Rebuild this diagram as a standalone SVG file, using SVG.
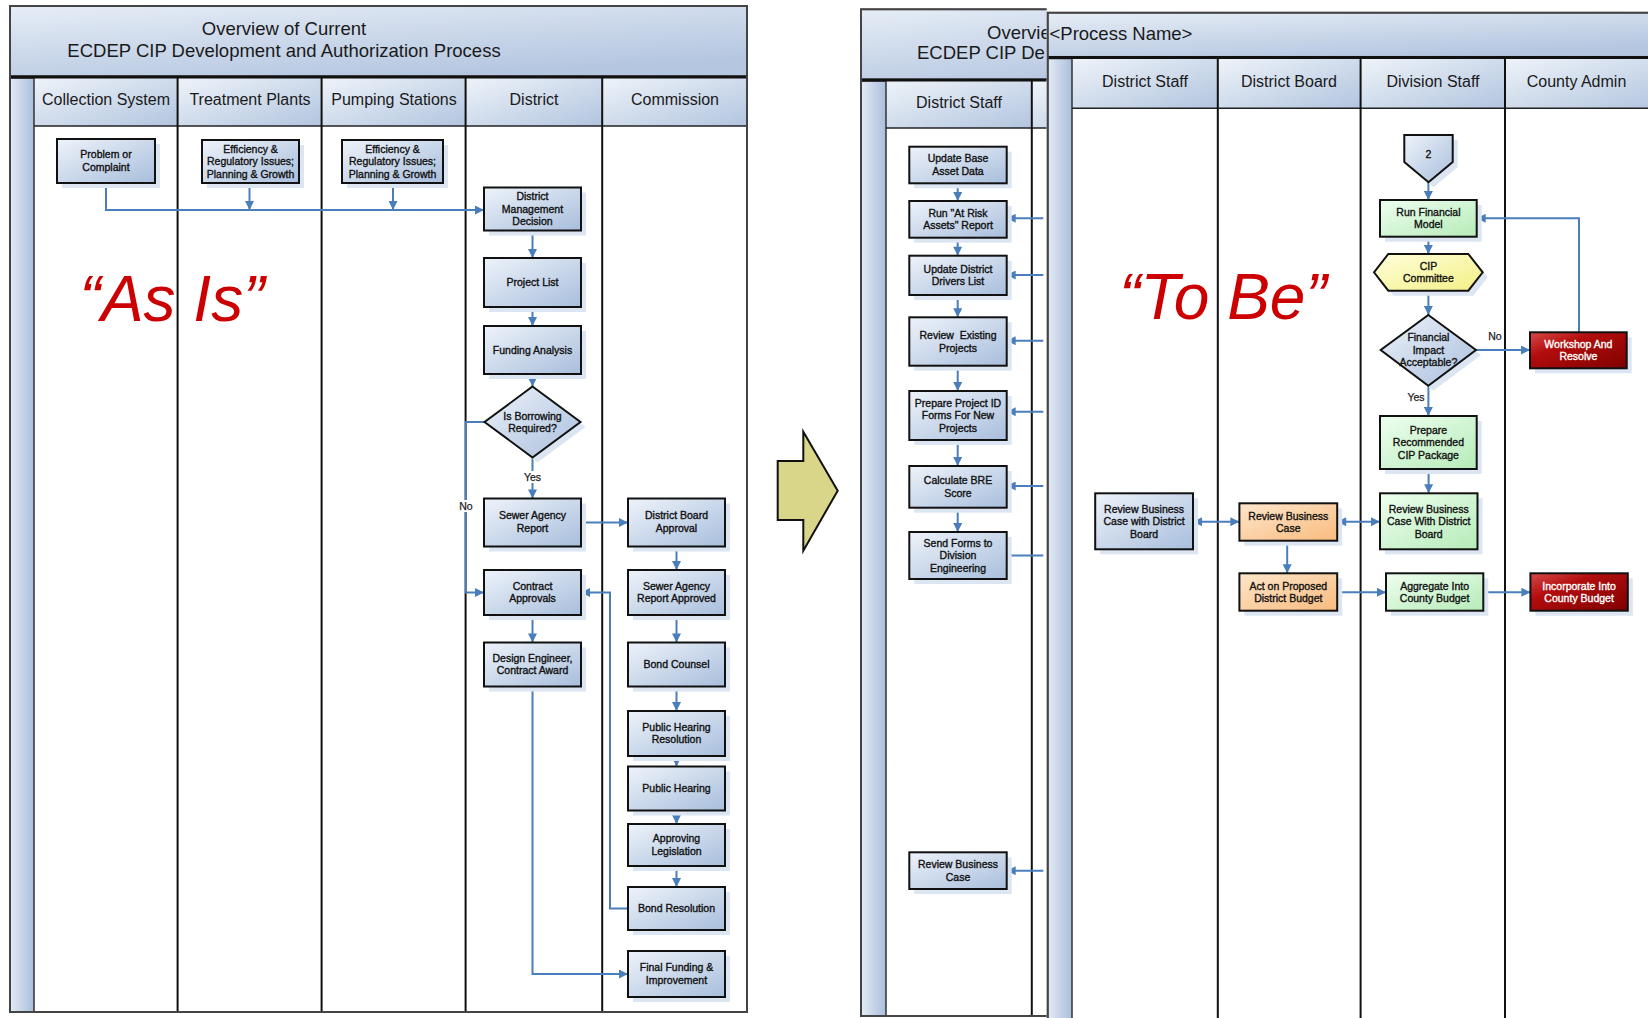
<svg xmlns="http://www.w3.org/2000/svg" width="1648" height="1018" viewBox="0 0 1648 1018">
  <defs>
    <linearGradient id="band" x1="0" y1="0" x2="0.6" y2="1">
      <stop offset="0" stop-color="#e6edf6"/>
      <stop offset="1" stop-color="#b4c6e0"/>
    </linearGradient>
    <linearGradient id="head" x1="0" y1="0" x2="1" y2="1">
      <stop offset="0" stop-color="#eef3f9"/>
      <stop offset="1" stop-color="#b2c5df"/>
    </linearGradient>
    <linearGradient id="strip" x1="0" y1="0" x2="1" y2="0">
      <stop offset="0" stop-color="#e4ebf5"/>
      <stop offset="1" stop-color="#a9bedc"/>
    </linearGradient>
    <linearGradient id="blue" x1="0" y1="0" x2="1" y2="1">
      <stop offset="0" stop-color="#eef3fa"/>
      <stop offset="1" stop-color="#a8bedc"/>
    </linearGradient>
    <linearGradient id="green" x1="0" y1="0" x2="1" y2="1">
      <stop offset="0" stop-color="#eefff0"/>
      <stop offset="1" stop-color="#b6ebb8"/>
    </linearGradient>
    <linearGradient id="orange" x1="0" y1="0" x2="1" y2="1">
      <stop offset="0" stop-color="#fde6cc"/>
      <stop offset="1" stop-color="#f9bb7d"/>
    </linearGradient>
    <linearGradient id="yellow" x1="0" y1="0" x2="1" y2="1">
      <stop offset="0" stop-color="#ffffdc"/>
      <stop offset="1" stop-color="#f3ef84"/>
    </linearGradient>
    <linearGradient id="red" x1="0" y1="0" x2="1" y2="1">
      <stop offset="0" stop-color="#d84a4a"/>
      <stop offset="0.35" stop-color="#b30d0d"/>
      <stop offset="1" stop-color="#7e0000"/>
    </linearGradient>
    <clipPath id="behind">
      <rect x="850" y="0" width="196.5" height="1018"/>
    </clipPath>
    <marker id="arr" viewBox="0 0 10 10" refX="10" refY="5" markerWidth="10" markerHeight="9" markerUnits="userSpaceOnUse" orient="auto-start-reverse">
      <path d="M0,0 L10,5 L0,10 z" fill="#4a7ebb"/>
    </marker>
  </defs>
  <style>
    .frame { fill: none; stroke: #444; stroke-width: 2; }
    .bandr { fill: url(#band); stroke: #444; stroke-width: 1.5; }
    .headr { fill: url(#head); }
    .stripr { fill: url(#strip); stroke: #333; stroke-width: 1.5; }
    .body { fill: #ffffff; }
    .div { stroke: #111; stroke-width: 2; }
    .sep { stroke: #111; stroke-width: 3; }
    .hl { stroke: #222; stroke-width: 1.5; }
    .sh { fill: #dce5f2; }
    .bx { stroke: #111; stroke-width: 2; }
    .b { fill: url(#blue); }
    .g { fill: url(#green); }
    .o { fill: url(#orange); }
    .y { fill: url(#yellow); }
    .r { fill: url(#red); }
    .t { font-family: "Liberation Sans", Arial, sans-serif; font-size: 10.5px; text-anchor: middle; fill: #111; stroke: #111; stroke-width: 0.35; }
    .tw { fill: #ffffff; stroke: #ffffff; }
    .lbl { font-family: "Liberation Sans", Arial, sans-serif; font-size: 10.5px; text-anchor: middle; fill: #222; stroke: #222; stroke-width: 0.25; }
    .hd { font-family: "Liberation Sans", Arial, sans-serif; font-size: 16px; text-anchor: middle; fill: #1a1a1a; }
    .ttl { font-family: "Liberation Sans", Arial, sans-serif; font-size: 18.5px; fill: #1a1a1a; }
    .big { font-family: "Liberation Sans", Arial, sans-serif; font-size: 64px; font-style: italic; fill: #cc0000; text-anchor: middle; }
    .c { fill: none; stroke: #4a7ebb; stroke-width: 2; }
    .ca { fill: none; stroke: #4a7ebb; stroke-width: 2; marker-end: url(#arr); }
    .cb { fill: none; stroke: #4a7ebb; stroke-width: 2; marker-start: url(#arr); marker-end: url(#arr); }
  </style>

  <rect x="0" y="0" width="1648" height="1018" fill="#ffffff"/>

  <!-- Left swimlane pool: current process -->
  <g id="pool-current">
    <rect class="bandr" x="10" y="6" width="737" height="70"/>
    <text class="ttl" x="284" y="35" text-anchor="middle">Overview of Current</text>
    <text class="ttl" x="284" y="57" text-anchor="middle">ECDEP CIP Development and Authorization Process</text>
    <rect class="body" x="34" y="126" width="713" height="886"/>
    <rect class="headr" x="34" y="78" width="144" height="48"/>
    <rect class="headr" x="178" y="78" width="144" height="48"/>
    <rect class="headr" x="322" y="78" width="144" height="48"/>
    <rect class="headr" x="466" y="78" width="136" height="48"/>
    <rect class="headr" x="602" y="78" width="145" height="48"/>
    <rect class="stripr" x="10" y="78" width="24" height="934"/>
    <line class="sep" x1="10" y1="77" x2="747" y2="77"/>
    <line class="hl" x1="34" y1="126" x2="747" y2="126"/>
    <line class="div" x1="177.6" y1="78" x2="177.6" y2="1012"/>
    <line class="div" x1="321.6" y1="78" x2="321.6" y2="1012"/>
    <line class="div" x1="465.6" y1="78" x2="465.6" y2="1012"/>
    <line class="div" x1="602.2" y1="78" x2="602.2" y2="1012"/>
    <rect class="frame" x="10" y="6" width="737" height="1006"/>
    <text class="hd" x="106" y="104.5">Collection System</text>
    <text class="hd" x="250" y="104.5">Treatment Plants</text>
    <text class="hd" x="394" y="104.5">Pumping Stations</text>
    <text class="hd" x="534" y="104.5">District</text>
    <text class="hd" x="675" y="104.5">Commission</text>
    <text class="big" x="172" y="321">“As Is”</text>
  </g>

  <!-- Transition arrow -->
  <g id="transition-arrow">
    <polygon points="777.7,461 803.3,461 803.3,431.7 837.7,490.7 803.3,550.7 803.3,520 777.7,520" fill="#d9d689" stroke="#111" stroke-width="2" stroke-linejoin="miter"/>
  </g>

  <!-- Middle pool, cut off where the right pool lies over it -->
  <g id="pool-middle" clip-path="url(#behind)">
    <rect class="bandr" x="861" y="9.3" width="400" height="70"/>
    <text class="ttl" x="987" y="38.5">Overvie</text>
    <text class="ttl" x="917" y="59">ECDEP CIP De</text>
    <rect class="body" x="886" y="128" width="375" height="888"/>
    <rect class="headr" x="886" y="81" width="146" height="47"/>
    <rect class="headr" x="1032" y="81" width="229" height="47"/>
    <rect class="stripr" x="861" y="81" width="25" height="935"/>
    <line class="sep" x1="861" y1="80" x2="1261" y2="80"/>
    <line class="hl" x1="886" y1="128" x2="1261" y2="128"/>
    <line class="div" x1="1031.8" y1="81" x2="1031.8" y2="1016"/>
    <rect class="frame" x="861" y="9.3" width="400" height="1006.7"/>
    <text class="hd" x="959" y="107.5">District Staff</text>
  </g>

  <!-- Right swimlane pool: future process -->
  <g id="pool-future">
    <rect class="bandr" x="1047.7" y="12.7" width="620" height="44"/>
    <text class="ttl" x="1049.5" y="39.8">&lt;Process Name&gt;</text>
    <rect class="body" x="1072" y="108.3" width="600" height="920"/>
    <rect class="headr" x="1072" y="58.5" width="145.8" height="49.8"/>
    <rect class="headr" x="1217.8" y="58.5" width="142.8" height="49.8"/>
    <rect class="headr" x="1360.6" y="58.5" width="144.4" height="49.8"/>
    <rect class="headr" x="1505" y="58.5" width="160" height="49.8"/>
    <rect class="stripr" x="1047.7" y="58.5" width="24.3" height="970"/>
    <line class="sep" x1="1047.7" y1="57.5" x2="1660" y2="57.5"/>
    <line class="hl" x1="1072" y1="108.3" x2="1660" y2="108.3"/>
    <line class="div" x1="1217.8" y1="58.5" x2="1217.8" y2="1030"/>
    <line class="div" x1="1360.6" y1="58.5" x2="1360.6" y2="1030"/>
    <line class="div" x1="1505" y1="58.5" x2="1505" y2="1030"/>
    <rect class="frame" x="1047.7" y="12.7" width="620" height="1020"/>
    <text class="hd" x="1145" y="87">District Staff</text>
    <text class="hd" x="1289" y="87">District Board</text>
    <text class="hd" x="1433" y="87">Division Staff</text>
    <text class="hd" x="1576.5" y="87">County Admin</text>
    <text class="big" x="1223" y="319">“To Be”</text>
  </g>

  <!-- Connectors -->
  <g id="connectors">
    <!-- current process -->
    <polyline class="ca" points="106,183 106,210 484,210"/>
    <line class="ca" x1="249.5" y1="183" x2="249.5" y2="210"/>
    <line class="ca" x1="393" y1="183" x2="393" y2="210"/>
    <line class="ca" x1="532.5" y1="230.5" x2="532.5" y2="258"/>
    <line class="ca" x1="532.5" y1="307" x2="532.5" y2="326"/>
    <line class="ca" x1="532.5" y1="374" x2="532.5" y2="386.5"/>
    <line class="ca" x1="532.5" y1="457.5" x2="532.5" y2="498.5"/>
    <polyline class="ca" points="484.5,422 466,422 466,592.5 484,592.5"/>
    <line class="ca" x1="581" y1="522.5" x2="628" y2="522.5"/>
    <line class="ca" x1="676.5" y1="546.5" x2="676.5" y2="570"/>
    <line class="ca" x1="676.5" y1="615" x2="676.5" y2="642.5"/>
    <line class="ca" x1="676.5" y1="686.5" x2="676.5" y2="711"/>
    <line class="ca" x1="676.5" y1="756" x2="676.5" y2="766.5"/>
    <line class="ca" x1="676.5" y1="810.5" x2="676.5" y2="824"/>
    <line class="ca" x1="676.5" y1="866" x2="676.5" y2="887"/>
    <polyline class="ca" points="628,908.5 610,908.5 610,592.5 581,592.5"/>
    <line class="ca" x1="532.5" y1="615" x2="532.5" y2="642.5"/>
    <polyline class="ca" points="532.5,686.5 532.5,974 628,974"/>
    <rect x="521" y="471" width="23" height="12" fill="#ffffff"/>
    <text class="lbl" x="532.5" y="481">Yes</text>
    <rect x="456" y="500" width="20" height="12" fill="#ffffff"/>
    <text class="lbl" x="466" y="510">No</text>

    <!-- middle pool -->
    <line class="ca" x1="957.7" y1="183.3" x2="957.7" y2="201"/>
    <line class="ca" x1="957.7" y1="237.7" x2="957.7" y2="255.7"/>
    <line class="ca" x1="957.7" y1="295" x2="957.7" y2="317.3"/>
    <line class="ca" x1="957.7" y1="365.7" x2="957.7" y2="391"/>
    <line class="ca" x1="957.7" y1="440" x2="957.7" y2="466"/>
    <line class="ca" x1="957.7" y1="507.7" x2="957.7" y2="532"/>
    <line class="ca" x1="1043.3" y1="218.3" x2="1006.7" y2="218.3"/>
    <line class="ca" x1="1043.3" y1="275" x2="1006.7" y2="275"/>
    <line class="ca" x1="1043.3" y1="340.7" x2="1006.7" y2="340.7"/>
    <line class="ca" x1="1043.3" y1="411.7" x2="1006.7" y2="411.7"/>
    <line class="ca" x1="1043.3" y1="486" x2="1006.7" y2="486"/>
    <line class="c" x1="1006.7" y1="555.5" x2="1043.3" y2="555.5"/>
    <line class="ca" x1="1043.3" y1="870.7" x2="1006.7" y2="870.7"/>

    <!-- future process -->
    <line class="ca" x1="1428.4" y1="182.3" x2="1428.4" y2="200"/>
    <line class="ca" x1="1428.4" y1="236.7" x2="1428.4" y2="254"/>
    <line class="ca" x1="1428.4" y1="290.7" x2="1428.4" y2="315"/>
    <line class="ca" x1="1476" y1="350" x2="1530" y2="350"/>
    <polyline class="ca" points="1579,332.3 1579,218.3 1476.7,218.3"/>
    <line class="ca" x1="1428.4" y1="385.7" x2="1428.4" y2="416"/>
    <line class="ca" x1="1428.6" y1="469" x2="1428.6" y2="493.3"/>
    <line class="cb" x1="1193" y1="521.7" x2="1239.4" y2="521.7"/>
    <line class="cb" x1="1337.2" y1="521.7" x2="1380" y2="521.7"/>
    <line class="ca" x1="1287.2" y1="540.7" x2="1287.2" y2="573.3"/>
    <line class="ca" x1="1337.2" y1="592.3" x2="1386" y2="592.3"/>
    <line class="ca" x1="1483.3" y1="592.3" x2="1530.4" y2="592.3"/>
    <text class="lbl" x="1495" y="340">No</text>
    <text class="lbl" x="1416" y="401">Yes</text>
  </g>

  <!-- Current process nodes -->
  <g id="n-problem"><rect class="sh" x="62" y="144" width="98" height="44"/><rect class="bx b" x="57" y="139" width="98" height="44"/>
    <text class="t" x="106" y="158.2">Problem or</text><text class="t" x="106" y="170.7">Complaint</text></g>
  <g id="n-eff-tp"><rect class="sh" x="207" y="145" width="97" height="43"/><rect class="bx b" x="202" y="140" width="97" height="43"/>
    <text class="t" x="250.5" y="152.7">Efficiency &amp;</text><text class="t" x="250.5" y="165.2">Regulatory Issues;</text><text class="t" x="250.5" y="177.7">Planning &amp; Growth</text></g>
  <g id="n-eff-ps"><rect class="sh" x="347" y="145" width="101" height="43"/><rect class="bx b" x="342" y="140" width="101" height="43"/>
    <text class="t" x="392.5" y="152.7">Efficiency &amp;</text><text class="t" x="392.5" y="165.2">Regulatory Issues;</text><text class="t" x="392.5" y="177.7">Planning &amp; Growth</text></g>
  <g id="n-dmd"><rect class="sh" x="489" y="192.5" width="97" height="43"/><rect class="bx b" x="484" y="187.5" width="97" height="43"/>
    <text class="t" x="532.5" y="200.2">District</text><text class="t" x="532.5" y="212.7">Management</text><text class="t" x="532.5" y="225.2">Decision</text></g>
  <g id="n-projlist"><rect class="sh" x="489" y="263" width="97" height="49"/><rect class="bx b" x="484" y="258" width="97" height="49"/>
    <text class="t" x="532.5" y="286.2">Project List</text></g>
  <g id="n-funding"><rect class="sh" x="489" y="331" width="97" height="48"/><rect class="bx b" x="484" y="326" width="97" height="48"/>
    <text class="t" x="532.5" y="353.7">Funding Analysis</text></g>
  <g id="n-borrow"><polygon class="sh" points="537.5,391.5 585.5,427 537.5,462.5 489.5,427"/><polygon class="bx b" points="532.5,386.5 580.5,422 532.5,457.5 484.5,422"/>
    <text class="t" x="532.5" y="420">Is Borrowing</text><text class="t" x="532.5" y="432">Required?</text></g>
  <g id="n-sar"><rect class="sh" x="489" y="503.5" width="97" height="48"/><rect class="bx b" x="484" y="498.5" width="97" height="48"/>
    <text class="t" x="532.5" y="518.5">Sewer Agency</text><text class="t" x="532.5" y="531.5">Report</text></g>
  <g id="n-dba"><rect class="sh" x="633" y="503.5" width="97" height="48"/><rect class="bx b" x="628" y="498.5" width="97" height="48"/>
    <text class="t" x="676.5" y="518.5">District Board</text><text class="t" x="676.5" y="531.5">Approval</text></g>
  <g id="n-contract"><rect class="sh" x="489" y="575" width="97" height="45"/><rect class="bx b" x="484" y="570" width="97" height="45"/>
    <text class="t" x="532.5" y="589.7">Contract</text><text class="t" x="532.5" y="602">Approvals</text></g>
  <g id="n-sara"><rect class="sh" x="633" y="575" width="97" height="45"/><rect class="bx b" x="628" y="570" width="97" height="45"/>
    <text class="t" x="676.5" y="589.7">Sewer Agency</text><text class="t" x="676.5" y="602">Report Approved</text></g>
  <g id="n-design"><rect class="sh" x="489" y="647.5" width="97" height="44"/><rect class="bx b" x="484" y="642.5" width="97" height="44"/>
    <text class="t" x="532.5" y="662">Design Engineer,</text><text class="t" x="532.5" y="674">Contract Award</text></g>
  <g id="n-bondcounsel"><rect class="sh" x="633" y="647.5" width="97" height="44"/><rect class="bx b" x="628" y="642.5" width="97" height="44"/>
    <text class="t" x="676.5" y="668">Bond Counsel</text></g>
  <g id="n-phr"><rect class="sh" x="633" y="716" width="97" height="45"/><rect class="bx b" x="628" y="711" width="97" height="45"/>
    <text class="t" x="676.5" y="730.9">Public Hearing</text><text class="t" x="676.5" y="743.4">Resolution</text></g>
  <g id="n-ph"><rect class="sh" x="633" y="771.5" width="97" height="44"/><rect class="bx b" x="628" y="766.5" width="97" height="44"/>
    <text class="t" x="676.5" y="792">Public Hearing</text></g>
  <g id="n-legis"><rect class="sh" x="633" y="829" width="97" height="42"/><rect class="bx b" x="628" y="824" width="97" height="42"/>
    <text class="t" x="676.5" y="842.4">Approving</text><text class="t" x="676.5" y="854.9">Legislation</text></g>
  <g id="n-bondres"><rect class="sh" x="633" y="892" width="97" height="43"/><rect class="bx b" x="628" y="887" width="97" height="43"/>
    <text class="t" x="676.5" y="912">Bond Resolution</text></g>
  <g id="n-final"><rect class="sh" x="633" y="956" width="97" height="46"/><rect class="bx b" x="628" y="951" width="97" height="46"/>
    <text class="t" x="676.5" y="971.4">Final Funding &amp;</text><text class="t" x="676.5" y="983.9">Improvement</text></g>

  <!-- Middle pool nodes -->
  <g id="m-base"><rect class="sh" x="914.3" y="151.7" width="97.4" height="36.6"/><rect class="bx b" x="909.3" y="146.7" width="97.4" height="36.6"/>
    <text class="t" x="958" y="162.4">Update Base</text><text class="t" x="958" y="174.9">Asset Data</text></g>
  <g id="m-risk"><rect class="sh" x="914.3" y="206" width="97.4" height="36.7"/><rect class="bx b" x="909.3" y="201" width="97.4" height="36.7"/>
    <text class="t" x="958" y="216.8">Run "At Risk</text><text class="t" x="958" y="229.3">Assets" Report</text></g>
  <g id="m-drivers"><rect class="sh" x="914.3" y="260.7" width="97.4" height="39.3"/><rect class="bx b" x="909.3" y="255.7" width="97.4" height="39.3"/>
    <text class="t" x="958" y="272.8">Update District</text><text class="t" x="958" y="285.3">Drivers List</text></g>
  <g id="m-existing"><rect class="sh" x="914.3" y="322.3" width="97.4" height="48.4"/><rect class="bx b" x="909.3" y="317.3" width="97.4" height="48.4"/>
    <text class="t" x="958" y="339" xml:space="preserve">Review  Existing</text><text class="t" x="958" y="351.5">Projects</text></g>
  <g id="m-prepare"><rect class="sh" x="914.3" y="396" width="97.4" height="49"/><rect class="bx b" x="909.3" y="391" width="97.4" height="49"/>
    <text class="t" x="958" y="406.7">Prepare Project ID</text><text class="t" x="958" y="419.2">Forms For New</text><text class="t" x="958" y="431.7">Projects</text></g>
  <g id="m-bre"><rect class="sh" x="914.3" y="471" width="97.4" height="41.7"/><rect class="bx b" x="909.3" y="466" width="97.4" height="41.7"/>
    <text class="t" x="958" y="484.3">Calculate BRE</text><text class="t" x="958" y="496.8">Score</text></g>
  <g id="m-send"><rect class="sh" x="914.3" y="537" width="97.4" height="47"/><rect class="bx b" x="909.3" y="532" width="97.4" height="47"/>
    <text class="t" x="958" y="546.7">Send Forms to</text><text class="t" x="958" y="559.2">Division</text><text class="t" x="958" y="571.7">Engineering</text></g>
  <g id="m-review"><rect class="sh" x="914.3" y="857.3" width="97.4" height="36.7"/><rect class="bx b" x="909.3" y="852.3" width="97.4" height="36.7"/>
    <text class="t" x="958" y="868.2">Review Business</text><text class="t" x="958" y="880.7">Case</text></g>

  <!-- Future process nodes -->
  <g id="r-offpage"><polygon class="sh" points="1409.3,140 1457.7,140 1457.7,167 1433.5,187.3 1409.3,167"/><polygon class="bx b" points="1404.3,135 1452.7,135 1452.7,162 1428.5,182.3 1404.3,162"/>
    <text class="t" x="1428.5" y="157.5">2</text></g>
  <g id="r-model"><rect class="sh" x="1385" y="205" width="96.7" height="36.7"/><rect class="bx g" x="1380" y="200" width="96.7" height="36.7"/>
    <text class="t" x="1428.4" y="215.8">Run Financial</text><text class="t" x="1428.4" y="228.3">Model</text></g>
  <g id="r-cip"><polygon class="sh" points="1379,277.3 1393.3,259 1473.3,259 1487.7,277.3 1473.3,295.7 1393.3,295.7"/><polygon class="bx y" points="1374,272.3 1388.3,254 1468.3,254 1482.7,272.3 1468.3,290.7 1388.3,290.7"/>
    <text class="t" x="1428.4" y="269.8">CIP</text><text class="t" x="1428.4" y="282.3">Committee</text></g>
  <g id="r-impact"><polygon class="sh" points="1433.3,320 1481,355 1433.3,390.7 1385.7,355"/><polygon class="bx b" points="1428.3,315 1476,350 1428.3,385.7 1380.7,350"/>
    <text class="t" x="1428.4" y="341">Financial</text><text class="t" x="1428.4" y="353.5">Impact</text><text class="t" x="1428.4" y="366">Acceptable?</text></g>
  <g id="r-workshop"><rect class="sh" x="1535" y="337.3" width="96.7" height="36"/><rect class="bx r" x="1530" y="332.3" width="96.7" height="36"/>
    <text class="t tw" x="1578.4" y="347.8">Workshop And</text><text class="t tw" x="1578.4" y="360.3">Resolve</text></g>
  <g id="r-package"><rect class="sh" x="1385" y="421" width="96.7" height="53"/><rect class="bx g" x="1380" y="416" width="96.7" height="53"/>
    <text class="t" x="1428.4" y="433.7">Prepare</text><text class="t" x="1428.4" y="446.2">Recommended</text><text class="t" x="1428.4" y="458.7">CIP Package</text></g>
  <g id="r-rbc-staff"><rect class="sh" x="1100.2" y="498.3" width="97.8" height="56"/><rect class="bx b" x="1095.2" y="493.3" width="97.8" height="56"/>
    <text class="t" x="1144.1" y="512.5">Review Business</text><text class="t" x="1144.1" y="525">Case with District</text><text class="t" x="1144.1" y="537.5">Board</text></g>
  <g id="r-rbc-board"><rect class="sh" x="1244.4" y="508.3" width="97.8" height="37.4"/><rect class="bx o" x="1239.4" y="503.3" width="97.8" height="37.4"/>
    <text class="t" x="1288.3" y="519.5">Review Business</text><text class="t" x="1288.3" y="532">Case</text></g>
  <g id="r-rbc-division"><rect class="sh" x="1385" y="498.3" width="97.5" height="56"/><rect class="bx g" x="1380" y="493.3" width="97.5" height="56"/>
    <text class="t" x="1428.7" y="512.5">Review Business</text><text class="t" x="1428.7" y="525">Case With District</text><text class="t" x="1428.7" y="537.5">Board</text></g>
  <g id="r-act"><rect class="sh" x="1244.4" y="578.3" width="97.8" height="37.4"/><rect class="bx o" x="1239.4" y="573.3" width="97.8" height="37.4"/>
    <text class="t" x="1288.3" y="589.5">Act on Proposed</text><text class="t" x="1288.3" y="602">District Budget</text></g>
  <g id="r-aggregate"><rect class="sh" x="1391" y="578.3" width="97.3" height="37.4"/><rect class="bx g" x="1386" y="573.3" width="97.3" height="37.4"/>
    <text class="t" x="1434.6" y="589.5">Aggregate Into</text><text class="t" x="1434.6" y="602">County Budget</text></g>
  <g id="r-incorporate"><rect class="sh" x="1535.4" y="578.3" width="97.4" height="37.4"/><rect class="bx r" x="1530.4" y="573.3" width="97.4" height="37.4"/>
    <text class="t tw" x="1579.1" y="589.5">Incorporate Into</text><text class="t tw" x="1579.1" y="602">County Budget</text></g>
</svg>
